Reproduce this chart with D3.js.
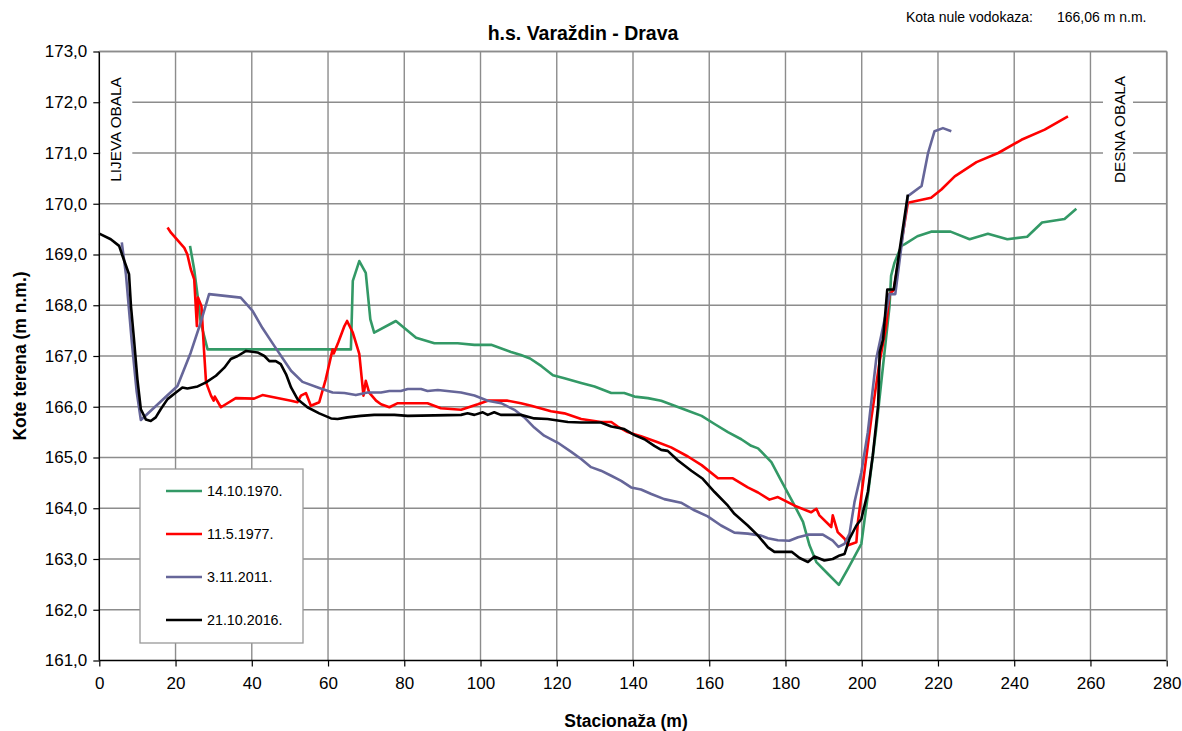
<!DOCTYPE html>
<html><head><meta charset="utf-8">
<script src="https://cdn.jsdelivr.net/npm/d3@7"></script>
<style>body{margin:0;background:#fff}svg{display:block;font-family:"Liberation Sans",Arial,sans-serif}</style>
</head><body><svg id="c" width="1182" height="731"></svg>
<script>
const xTicks = [0,20,40,60,80,100,120,140,160,180,200,220,240,260,280];
const yTicks = [161,162,163,164,165,166,167,168,169,170,171,172,173];
const seriesNames = ["14.10.1970.","11.5.1977.","3.11.2011.","21.10.2016."];
const seriesColors = ["#339966","#ff0000","#666699","#000000"];

const s1970 = [[23.8,169.17],[24.9,168.7],[25.8,168.18],[26.6,167.66],[28.4,167.13],[66.0,167.13],[66.5,168.48],[68.2,168.87],[69.9,168.64],[71.1,167.72],[72.1,167.46],[77.8,167.69],[83.1,167.36],[87.9,167.25],[94.0,167.25],[98.4,167.22],[102.8,167.22],[108.0,167.08],[110.6,167.02],[113,166.95],[116,166.80],[119,166.62],[122,166.56],[126.4,166.47],[129.9,166.40],[131.6,166.35],[134.3,166.27],[137.7,166.27],[140.4,166.20],[143.9,166.17],[147.4,166.12],[150.9,166.02],[154.4,165.92],[158.0,165.82],[161.4,165.66],[164.9,165.50],[168.4,165.36],[171.0,165.23],[172.8,165.18],[176.3,164.91],[178.9,164.54],[182.4,164.05],[184.6,163.73],[186.3,163.27],[188.1,162.94],[191.1,162.71],[194.0,162.49],[196.4,162.81],[199.9,163.30],[201.6,164.25],[203.8,165.56],[205.6,166.81],[207.3,167.99],[207.7,168.58],[208.6,168.84],[210.4,169.17],[211.2,169.20],[214.6,169.36],[218.2,169.45],[223.3,169.45],[228.3,169.30],[233.1,169.41],[238.2,169.30],[243.4,169.35],[247.3,169.63],[253.2,169.70],[256.3,169.90]];

const s1977 = [[17.9,169.53],[18.8,169.43],[22.3,169.13],[23.1,169.0],[24.0,168.71],[24.9,168.51],[25.6,167.59],[25.9,168.15],[26.8,167.98],[27.5,167.07],[28.0,166.48],[29.3,166.22],[30.0,166.12],[30.3,166.2],[31.9,165.99],[35.8,166.17],[40.6,166.16],[42.8,166.23],[50.3,166.12],[52.0,166.09],[52.9,166.22],[54.2,166.27],[55.5,166.02],[57.7,166.09],[59.4,166.54],[61.2,167.13],[61.5,167.05],[62.7,167.27],[64.3,167.59],[65.0,167.69],[66.5,167.46],[68.2,167.04],[69.3,166.22],[69.9,166.51],[70.8,166.28],[72.6,166.12],[73.9,166.05],[76.1,165.99],[78.3,166.07],[86.1,166.07],[89.6,165.97],[94.9,165.94],[99.3,166.05],[101.9,166.12],[107.1,166.12],[110.6,166.07],[113.3,166.02],[118.5,165.91],[122.0,165.87],[126.4,165.76],[131.6,165.70],[134.3,165.70],[136.0,165.61],[138.6,165.50],[142.1,165.42],[146.5,165.30],[150.0,165.20],[154.4,165.02],[158.0,164.85],[162.3,164.59],[166.2,164.59],[170.1,164.41],[172.8,164.31],[175.8,164.17],[178.0,164.22],[182.4,164.05],[186.7,163.92],[188.1,163.99],[188.9,163.86],[192.0,163.63],[192.4,163.86],[193.7,163.53],[195.5,163.40],[196.4,163.27],[198.6,163.33],[199.0,163.73],[199.9,164.25],[202.5,165.76],[204.7,166.90],[205.1,167.05],[206.4,167.59],[207.3,168.22],[208.4,168.30],[212.1,170.02],[218.2,170.12],[220.9,170.28],[224.4,170.54],[230.1,170.82],[235.8,171.00],[241.9,171.26],[248.0,171.46],[254.1,171.72]];

const s2011 = [[5.9,169.24],[7.0,168.6],[8.5,167.3],[9.8,166.3],[10.9,165.74],[20.5,166.41],[24.0,167.07],[26.6,167.66],[28.8,168.22],[37.1,168.15],[40.2,167.89],[42.8,167.55],[45.9,167.20],[50.3,166.71],[53.3,166.49],[57.7,166.37],[61.2,166.28],[64.3,166.27],[67.3,166.23],[70.4,166.28],[73.9,166.28],[76.1,166.31],[79.1,166.31],[80.9,166.35],[84.4,166.35],[86.1,166.31],[88.8,166.33],[94.9,166.28],[98.4,166.22],[101.9,166.12],[105.4,166.07],[108.9,165.94],[111.5,165.79],[114.1,165.59],[116.7,165.43],[120.3,165.29],[123.8,165.11],[126.4,164.97],[129.0,164.81],[131.6,164.74],[134.3,164.64],[136.9,164.54],[139.5,164.41],[142.1,164.37],[144.8,164.28],[148.2,164.18],[152.6,164.11],[156.1,163.96],[159.6,163.84],[163.1,163.66],[166.6,163.52],[170.1,163.50],[173.6,163.46],[175.4,163.41],[178.0,163.37],[181.0,163.36],[183.3,163.43],[185.9,163.48],[189.8,163.48],[192.4,163.36],[193.9,163.24],[195.5,163.30],[196.8,163.50],[198.1,164.12],[199.9,164.71],[201.6,165.50],[203.8,166.94],[205.1,167.40],[206.4,167.86],[207.3,168.22],[208.8,168.22],[212.1,170.15],[215.7,170.35],[217.4,171.0],[219.1,171.43],[221.3,171.49],[223.5,171.43]];

const s2016 = [[0,169.41],[3.0,169.30],[5.2,169.17],[6.1,168.97],[7.8,168.61],[8.3,167.99],[9.1,167.33],[10.0,166.54],[10.9,165.95],[12.2,165.75],[13.5,165.72],[14.8,165.79],[16.1,165.95],[17.9,166.15],[20.1,166.28],[21.8,166.38],[23.1,166.36],[25.8,166.40],[28.0,166.48],[30.6,166.61],[32.8,166.77],[34.5,166.94],[36.3,167.00],[38.5,167.10],[41.5,167.07],[43.3,167.00],[44.6,166.90],[46.3,166.90],[47.6,166.84],[49.0,166.64],[50.3,166.38],[52.0,166.15],[54.6,165.99],[57.7,165.87],[60.8,165.77],[62.5,165.76],[65.1,165.79],[68.6,165.82],[72.1,165.84],[77.4,165.84],[80.9,165.82],[94.9,165.84],[96.6,165.87],[98.4,165.84],[100.6,165.89],[101.9,165.84],[103.6,165.89],[105.3,165.84],[110.6,165.84],[114.1,165.77],[117.6,165.76],[122.9,165.70],[126.4,165.69],[131.6,165.69],[134.3,165.61],[137.7,165.56],[140.4,165.44],[143.0,165.36],[145.6,165.23],[147.4,165.15],[149.1,165.13],[151.8,164.94],[155.3,164.74],[158.3,164.58],[161.4,164.32],[164.9,164.05],[166.6,163.89],[170.1,163.66],[172.8,163.46],[175.4,163.23],[177.1,163.14],[181.7,163.14],[183.7,163.02],[185.9,162.94],[187.6,163.05],[190.2,162.97],[192.4,163.00],[194.2,163.07],[195.5,163.10],[196.8,163.40],[198.6,163.66],[199.9,163.79],[201.6,164.32],[202.9,165.04],[204.3,166.02],[204.7,167.07],[205.6,167.33],[206.7,168.31],[208.4,168.31],[212.1,170.18]];

const allSeries = [s1970, s1977, s2011, s2016];

const svg = d3.select("#c");
const X0 = 99.3, X1 = 1166.7, Y0 = 660.5, Y1 = 51.5;
const x = d3.scaleLinear().domain([0,280]).range([X0,X1]);
const y = d3.scaleLinear().domain([161,173]).range([Y0,Y1]);
const grid = "#8c8c8c";

// grid
const g = svg.append("g");
g.selectAll(".vg").data(xTicks.slice(1)).join("line")
  .attr("x1",d=>x(d)).attr("x2",d=>x(d)).attr("y1",Y1).attr("y2",Y0)
  .attr("stroke",grid).attr("stroke-width",1.4);
g.selectAll(".hg").data(yTicks.slice(1)).join("line")
  .attr("x1",X0).attr("x2",X1).attr("y1",d=>y(d)).attr("y2",d=>y(d))
  .attr("stroke",grid).attr("stroke-width",1.4);

// white boxes behind bank labels
svg.append("rect").attr("x",X0+1).attr("y",64).attr("width",32).attr("height",130).attr("fill","#fff");
svg.append("rect").attr("x",1103).attr("y",64).attr("width",30).attr("height",130).attr("fill","#fff");
svg.append("text").attr("transform","translate(121,129.5) rotate(-90)").attr("text-anchor","middle")
  .attr("font-size",15.3).text("LIJEVA OBALA");
svg.append("text").attr("transform","translate(1125,129.5) rotate(-90)").attr("text-anchor","middle")
  .attr("font-size",15.3).text("DESNA OBALA");

// lines
const line = d3.line().x(d=>x(d[0])).y(d=>y(d[1]));
allSeries.forEach((s,i)=>{
  svg.append("path").datum(s).attr("d",line).attr("fill","none")
    .attr("stroke",seriesColors[i]).attr("stroke-width",2.6).attr("stroke-linejoin","round");
});

// axes
const xa = svg.append("g").attr("transform",`translate(0,${Y0})`)
  .call(d3.axisBottom(x).tickValues(xTicks).tickSize(6).tickPadding(10).tickFormat(d3.format("d")));
const ya = svg.append("g").attr("transform",`translate(${X0},0)`)
  .call(d3.axisLeft(y).tickValues(yTicks).tickSize(6).tickPadding(6).tickFormat(d=>d.toFixed(1).replace(".",",")));
[xa,ya].forEach(a=>{
  a.select(".domain").attr("stroke","#000").attr("stroke-width",1.5);
  a.selectAll(".tick line").attr("stroke","#000").attr("stroke-width",1.2);
  a.selectAll("text").attr("font-size",17).attr("fill","#000").attr("font-family","Liberation Sans, Arial, sans-serif");
});
xa.select(".domain").attr("d",`M${X0},0H${X1}`);
ya.select(".domain").attr("d",`M0,0`);
svg.append("line").attr("x1",X0).attr("x2",X0).attr("y1",Y1).attr("y2",Y0).attr("stroke","#000").attr("stroke-width",1.5);
// top/right border gray
svg.append("line").attr("x1",X0).attr("x2",X1).attr("y1",Y1).attr("y2",Y1).attr("stroke",grid).attr("stroke-width",1.6);
svg.append("line").attr("x1",X1).attr("x2",X1).attr("y1",Y1).attr("y2",Y0).attr("stroke",grid).attr("stroke-width",1.6);

// legend
const lg = svg.append("g");
lg.append("rect").attr("x",140).attr("y",469).attr("width",163).attr("height",174)
  .attr("fill","#fff").attr("stroke","#999").attr("stroke-width",1.3);
const rowY = [491,534,577,620];
seriesNames.forEach((n,i)=>{
  lg.append("line").attr("x1",166).attr("x2",202).attr("y1",rowY[i]).attr("y2",rowY[i])
    .attr("stroke",seriesColors[i]).attr("stroke-width",2.6);
  lg.append("text").attr("x",207).attr("y",rowY[i]+5).attr("font-size",14.3).text(n);
});

// titles
svg.append("text").attr("x",583).attr("y",40).attr("text-anchor","middle")
  .attr("font-size",19.5).attr("font-weight","bold").text("h.s. Varaždin - Drava");
svg.append("text").attr("x",906).attr("y",22).attr("font-size",14).text("Kota nule vodokaza:");
svg.append("text").attr("x",1057).attr("y",22).attr("font-size",14).text("166,06 m n.m.");
svg.append("text").attr("x",626).attr("y",727).attr("text-anchor","middle")
  .attr("font-size",17.5).attr("font-weight","bold").text("Stacionaža (m)");
svg.append("text").attr("transform","translate(26,356) rotate(-90)").attr("text-anchor","middle")
  .attr("font-size",17.5).attr("font-weight","bold").text("Kote terena (m n.m.)");
</script></body></html>
